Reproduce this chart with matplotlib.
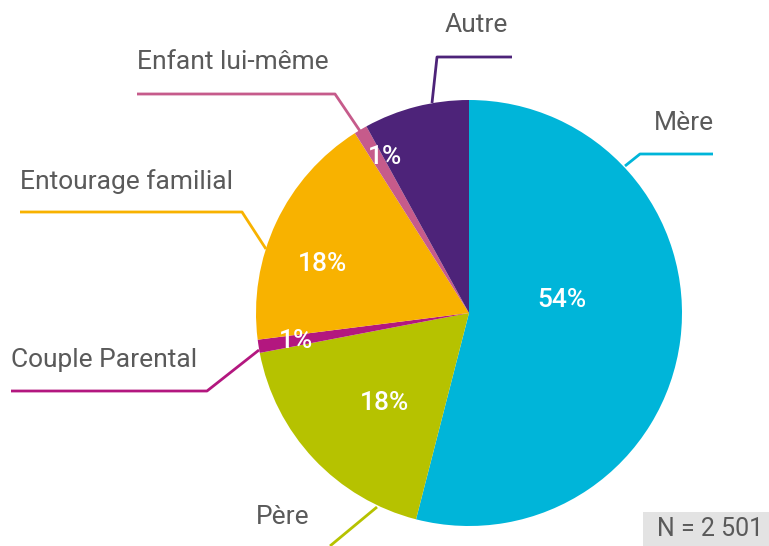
import matplotlib.pyplot as plt

labels = ["Mère", "Père", "Couple Parental", "Entourage familial", "Enfant lui-même", "Autre"]
shares = [54, 18, 1, 18, 1, 8]
pct_text = ["54%", "18%", "1%", "18%", "1%", ""]
colors = ["#00b5d9", "#b6c200", "#b3177f", "#f8b200", "#c65b8b", "#4d2379"]
n_text = "N = 2 501"

W, H = 769, 546
cx, cy, r = 469, H - 313, 213

fig = plt.figure(figsize=(W / 100, H / 100), dpi=100)
ax = fig.add_axes([0, 0, 1, 1])

ax.pie(shares, colors=colors, startangle=90, counterclock=False,
       center=(cx, cy), radius=r, frame=True,
       wedgeprops=dict(linewidth=0))
ax.set_xlim(0, W)
ax.set_ylim(0, H)
ax.set_aspect("equal")
ax.axis("off")

font = "Roboto"
grey = "#5a5a5a"

# percent labels inside slices (pixel positions, top-left origin)
pct_pos = [(562, 300), (385, 403), (296, 341), (323, 264), (385, 157), (0, 0)]
for t, (x, y) in zip(pct_text, pct_pos):
    if t:
        ax.text(x, H - y, t, color="white", fontsize=19, fontweight="medium",
                ha="center", va="center", family=font)

# leader lines: points in pixel coords, label pos, alignment
leaders = [
    ([(625, 166), (640, 154), (713, 154)], (684, 123), "center"),
    ([(377, 507), (330, 546)], (283, 517), "center"),
    ([(259, 350), (207, 391), (11, 391)], (11, 360), "left"),
    ([(266, 249), (242, 212), (20, 212)], (20, 182), "left"),
    ([(360, 131), (335, 94), (137, 94)], (137, 62), "left"),
    ([(432, 103), (437, 57), (512, 57)], (476, 25), "center"),
]
for (pts, (lx, ly), ha), lab, col in zip(leaders, labels, colors):
    xs = [p[0] for p in pts]
    ys = [H - p[1] for p in pts]
    ax.plot(xs, ys, color=col, lw=2, solid_capstyle="butt", clip_on=False)
    ax.text(lx, H - ly, lab, color=grey, fontsize=19, ha=ha, va="center",
            family=font)

ax.add_patch(plt.Rectangle((643, 0), 126, 34, color="#e3e3e3", lw=0))
ax.text(710, H - 529, n_text, color=grey, fontsize=18, ha="center",
        va="center", family=font)

fig.savefig("out.png", dpi=100)
